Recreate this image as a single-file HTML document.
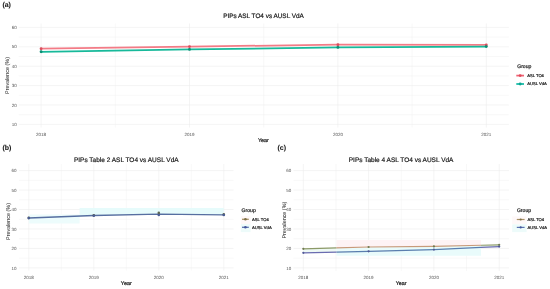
<!DOCTYPE html>
<html><head><meta charset="utf-8"><style>
html,body{margin:0;padding:0;background:#fff;width:550px;height:289px;overflow:hidden}
svg{display:block;font-family:"Liberation Sans", sans-serif;text-rendering:geometricPrecision}
</style></head><body>
<svg width="550" height="289" viewBox="0 0 550 289">
<defs><filter id="bl" x="0" y="0" width="550" height="289" filterUnits="userSpaceOnUse" color-interpolation-filters="sRGB"><feConvolveMatrix order="3" kernelMatrix="0 0 0 0 1 0 0 0 0" edgeMode="duplicate"/></filter></defs>
<rect width="550" height="289" fill="#fff"/>
<line x1="18.7" x2="508.8" y1="114.70" y2="114.70" stroke="#f1f1f1" stroke-width="0.5"/>
<line x1="18.7" x2="508.8" y1="95.30" y2="95.30" stroke="#f1f1f1" stroke-width="0.5"/>
<line x1="18.7" x2="508.8" y1="75.90" y2="75.90" stroke="#f1f1f1" stroke-width="0.5"/>
<line x1="18.7" x2="508.8" y1="56.50" y2="56.50" stroke="#f1f1f1" stroke-width="0.5"/>
<line x1="18.7" x2="508.8" y1="37.10" y2="37.10" stroke="#f1f1f1" stroke-width="0.5"/>
<line x1="115.30" x2="115.30" y1="23.5" y2="127.5" stroke="#f1f1f1" stroke-width="0.5"/>
<line x1="263.70" x2="263.70" y1="23.5" y2="127.5" stroke="#f1f1f1" stroke-width="0.5"/>
<line x1="412.10" x2="412.10" y1="23.5" y2="127.5" stroke="#f1f1f1" stroke-width="0.5"/>
<line x1="18.7" x2="508.8" y1="124.40" y2="124.40" stroke="#ececec" stroke-width="0.6"/>
<line x1="18.7" x2="508.8" y1="105.00" y2="105.00" stroke="#ececec" stroke-width="0.6"/>
<line x1="18.7" x2="508.8" y1="85.60" y2="85.60" stroke="#ececec" stroke-width="0.6"/>
<line x1="18.7" x2="508.8" y1="66.20" y2="66.20" stroke="#ececec" stroke-width="0.6"/>
<line x1="18.7" x2="508.8" y1="46.80" y2="46.80" stroke="#ececec" stroke-width="0.6"/>
<line x1="18.7" x2="508.8" y1="27.40" y2="27.40" stroke="#ececec" stroke-width="0.6"/>
<line x1="41.10" x2="41.10" y1="23.5" y2="127.5" stroke="#ececec" stroke-width="0.6"/>
<line x1="189.50" x2="189.50" y1="23.5" y2="127.5" stroke="#ececec" stroke-width="0.6"/>
<line x1="337.90" x2="337.90" y1="23.5" y2="127.5" stroke="#ececec" stroke-width="0.6"/>
<line x1="486.30" x2="486.30" y1="23.5" y2="127.5" stroke="#ececec" stroke-width="0.6"/>
<polyline points="41.10,48.70 189.50,46.60 337.90,44.70 486.30,44.90" fill="none" stroke="#f37b86" stroke-width="1.75" stroke-linejoin="round"/>
<circle cx="41.10" cy="48.70" r="1.45" fill="#d84f5e"/>
<circle cx="189.50" cy="46.60" r="1.45" fill="#d84f5e"/>
<circle cx="337.90" cy="44.70" r="1.45" fill="#d84f5e"/>
<circle cx="486.30" cy="44.90" r="1.45" fill="#d84f5e"/>
<polyline points="41.10,51.80 189.50,49.40 337.90,47.40 486.30,46.60" fill="none" stroke="#17b99a" stroke-width="1.75" stroke-linejoin="round"/>
<circle cx="41.10" cy="51.80" r="1.45" fill="#0a8e74"/>
<circle cx="189.50" cy="49.40" r="1.45" fill="#0a8e74"/>
<circle cx="337.90" cy="47.40" r="1.45" fill="#0a8e74"/>
<circle cx="486.30" cy="46.60" r="1.45" fill="#0a8e74"/>
<line x1="516.3" x2="524.0" y1="75.6" y2="75.6" stroke="#f06474" stroke-width="1.75"/>
<circle cx="520.15" cy="75.6" r="1.45" fill="#e04a5c"/>
<line x1="516.3" x2="524.0" y1="84.0" y2="84.0" stroke="#14bba6" stroke-width="1.75"/>
<circle cx="520.15" cy="84.0" r="1.45" fill="#0aa592"/>
<line x1="19" x2="233.5" y1="258.17" y2="258.17" stroke="#f1f1f1" stroke-width="0.5"/>
<line x1="19" x2="233.5" y1="238.71" y2="238.71" stroke="#f1f1f1" stroke-width="0.5"/>
<line x1="19" x2="233.5" y1="219.25" y2="219.25" stroke="#f1f1f1" stroke-width="0.5"/>
<line x1="19" x2="233.5" y1="199.79" y2="199.79" stroke="#f1f1f1" stroke-width="0.5"/>
<line x1="19" x2="233.5" y1="180.33" y2="180.33" stroke="#f1f1f1" stroke-width="0.5"/>
<line x1="61.30" x2="61.30" y1="164" y2="270.5" stroke="#f1f1f1" stroke-width="0.5"/>
<line x1="126.30" x2="126.30" y1="164" y2="270.5" stroke="#f1f1f1" stroke-width="0.5"/>
<line x1="191.30" x2="191.30" y1="164" y2="270.5" stroke="#f1f1f1" stroke-width="0.5"/>
<line x1="19" x2="233.5" y1="267.90" y2="267.90" stroke="#ececec" stroke-width="0.6"/>
<line x1="19" x2="233.5" y1="248.44" y2="248.44" stroke="#ececec" stroke-width="0.6"/>
<line x1="19" x2="233.5" y1="228.98" y2="228.98" stroke="#ececec" stroke-width="0.6"/>
<line x1="19" x2="233.5" y1="209.52" y2="209.52" stroke="#ececec" stroke-width="0.6"/>
<line x1="19" x2="233.5" y1="190.06" y2="190.06" stroke="#ececec" stroke-width="0.6"/>
<line x1="19" x2="233.5" y1="170.60" y2="170.60" stroke="#ececec" stroke-width="0.6"/>
<line x1="28.80" x2="28.80" y1="164" y2="270.5" stroke="#ececec" stroke-width="0.6"/>
<line x1="93.80" x2="93.80" y1="164" y2="270.5" stroke="#ececec" stroke-width="0.6"/>
<line x1="158.80" x2="158.80" y1="164" y2="270.5" stroke="#ececec" stroke-width="0.6"/>
<line x1="223.80" x2="223.80" y1="164" y2="270.5" stroke="#ececec" stroke-width="0.6"/>
<polygon points="28.80,214.50 79.60,214.50 79.60,223.50 28.80,223.50" fill="#edfcfc"/>
<polygon points="79.60,207.90 223.80,207.90 223.80,214.80 158.80,214.20 93.80,215.50 79.60,216.05" fill="#e6fbfb"/>
<polyline points="28.80,218.00 93.80,215.50 158.80,214.20 223.80,214.80" fill="none" stroke="#566ea0" stroke-width="1.3" stroke-linejoin="round"/>
<circle cx="28.80" cy="217.90" r="1.3" fill="#5a6450"/>
<circle cx="93.80" cy="215.20" r="1.3" fill="#5a6450"/>
<circle cx="158.80" cy="212.90" r="1.3" fill="#5a6450"/>
<circle cx="223.80" cy="214.40" r="1.3" fill="#5a6450"/>
<circle cx="28.80" cy="218.10" r="1.3" fill="#4a5c94"/>
<circle cx="93.80" cy="215.70" r="1.3" fill="#4a5c94"/>
<circle cx="158.80" cy="215.00" r="1.3" fill="#4a5c94"/>
<circle cx="223.80" cy="215.00" r="1.3" fill="#4a5c94"/>
<rect x="240.8" y="216.10" width="9.7" height="8" fill="#fef8f8"/>
<line x1="242.0" x2="248.8" y1="219.3" y2="219.3" stroke="#a89266" stroke-width="1.3"/>
<circle cx="245.40" cy="219.3" r="1.3" fill="#7e7048"/>
<rect x="240.8" y="224.10" width="9.7" height="8" fill="#edfbfa"/>
<line x1="242.0" x2="248.8" y1="227.3" y2="227.3" stroke="#5a72b0" stroke-width="1.3"/>
<circle cx="245.40" cy="227.3" r="1.3" fill="#44579a"/>
<line x1="293.5" x2="509" y1="258.17" y2="258.17" stroke="#f1f1f1" stroke-width="0.5"/>
<line x1="293.5" x2="509" y1="238.71" y2="238.71" stroke="#f1f1f1" stroke-width="0.5"/>
<line x1="293.5" x2="509" y1="219.25" y2="219.25" stroke="#f1f1f1" stroke-width="0.5"/>
<line x1="293.5" x2="509" y1="199.79" y2="199.79" stroke="#f1f1f1" stroke-width="0.5"/>
<line x1="293.5" x2="509" y1="180.33" y2="180.33" stroke="#f1f1f1" stroke-width="0.5"/>
<line x1="335.95" x2="335.95" y1="164" y2="271" stroke="#f1f1f1" stroke-width="0.5"/>
<line x1="401.25" x2="401.25" y1="164" y2="271" stroke="#f1f1f1" stroke-width="0.5"/>
<line x1="466.55" x2="466.55" y1="164" y2="271" stroke="#f1f1f1" stroke-width="0.5"/>
<line x1="293.5" x2="509" y1="267.90" y2="267.90" stroke="#ececec" stroke-width="0.6"/>
<line x1="293.5" x2="509" y1="248.44" y2="248.44" stroke="#ececec" stroke-width="0.6"/>
<line x1="293.5" x2="509" y1="228.98" y2="228.98" stroke="#ececec" stroke-width="0.6"/>
<line x1="293.5" x2="509" y1="209.52" y2="209.52" stroke="#ececec" stroke-width="0.6"/>
<line x1="293.5" x2="509" y1="190.06" y2="190.06" stroke="#ececec" stroke-width="0.6"/>
<line x1="293.5" x2="509" y1="170.60" y2="170.60" stroke="#ececec" stroke-width="0.6"/>
<line x1="303.30" x2="303.30" y1="164" y2="271" stroke="#ececec" stroke-width="0.6"/>
<line x1="368.60" x2="368.60" y1="164" y2="271" stroke="#ececec" stroke-width="0.6"/>
<line x1="433.90" x2="433.90" y1="164" y2="271" stroke="#ececec" stroke-width="0.6"/>
<line x1="499.20" x2="499.20" y1="164" y2="271" stroke="#ececec" stroke-width="0.6"/>
<polygon points="303.30,248.80 336.50,247.88 336.50,252.04 303.30,252.80" fill="#eef9f4"/>
<polygon points="336.50,239.90 481.00,239.90 481.00,245.25 433.90,246.40 368.60,247.00 336.50,247.88" fill="#fef3f5"/>
<polygon points="336.50,247.88 368.60,247.00 433.90,246.40 481.00,245.25 481.00,255.80 336.50,255.80" fill="#e9fbfb"/>
<polygon points="481.00,245.25 499.20,244.80 499.20,246.60 481.00,247.44" fill="#eef9f4"/>
<polyline points="303.30,248.80 336.50,247.88" fill="none" stroke="#8c9a68" stroke-width="1.2" stroke-linejoin="round"/>
<polyline points="303.30,252.80 336.50,252.04" fill="none" stroke="#6a6cb0" stroke-width="1.2" stroke-linejoin="round"/>
<polyline points="336.50,247.88 368.60,247.00 433.90,246.40 481.00,245.25" fill="none" stroke="#c89a7a" stroke-width="1.2" stroke-linejoin="round"/>
<polyline points="336.50,252.04 368.60,251.30 433.90,249.60 481.00,247.44" fill="none" stroke="#5a7eae" stroke-width="1.2" stroke-linejoin="round"/>
<polyline points="481.00,245.25 499.20,244.80" fill="none" stroke="#8c9a68" stroke-width="1.2" stroke-linejoin="round"/>
<polyline points="481.00,247.44 499.20,246.60" fill="none" stroke="#6a6cb0" stroke-width="1.2" stroke-linejoin="round"/>
<circle cx="303.30" cy="248.80" r="1.1" fill="#6f7a50"/>
<circle cx="368.60" cy="247.00" r="1.1" fill="#6f7a50"/>
<circle cx="433.90" cy="246.40" r="1.1" fill="#6f7a50"/>
<circle cx="499.20" cy="244.80" r="1.1" fill="#6f7a50"/>
<circle cx="303.30" cy="252.80" r="1.1" fill="#4f5895"/>
<circle cx="368.60" cy="251.30" r="1.1" fill="#4f5895"/>
<circle cx="433.90" cy="249.60" r="1.1" fill="#4f5895"/>
<circle cx="499.20" cy="246.60" r="1.1" fill="#4f5895"/>
<rect x="512.2" y="216.40" width="14.4" height="7.8" fill="#fef8f8"/>
<line x1="516.8" x2="524.6" y1="219.5" y2="219.5" stroke="#a89266" stroke-width="1.2"/>
<circle cx="520.70" cy="219.5" r="1.1" fill="#7e7048"/>
<rect x="512.2" y="224.30" width="14.4" height="7.8" fill="#edfbfa"/>
<line x1="516.8" x2="524.6" y1="227.4" y2="227.4" stroke="#5a72b0" stroke-width="1.2"/>
<circle cx="520.70" cy="227.4" r="1.1" fill="#44579a"/>
<g filter="url(#bl)">
<text x="16.70" y="126.02" font-size="4.5" text-anchor="end" font-weight="normal" fill="#555555" stroke="#555555" stroke-width="0.0" >10</text>
<text x="16.70" y="106.62" font-size="4.5" text-anchor="end" font-weight="normal" fill="#555555" stroke="#555555" stroke-width="0.0" >20</text>
<text x="16.70" y="87.22" font-size="4.5" text-anchor="end" font-weight="normal" fill="#555555" stroke="#555555" stroke-width="0.0" >30</text>
<text x="16.70" y="67.82" font-size="4.5" text-anchor="end" font-weight="normal" fill="#555555" stroke="#555555" stroke-width="0.0" >40</text>
<text x="16.70" y="48.42" font-size="4.5" text-anchor="end" font-weight="normal" fill="#555555" stroke="#555555" stroke-width="0.0" >50</text>
<text x="16.70" y="29.02" font-size="4.5" text-anchor="end" font-weight="normal" fill="#555555" stroke="#555555" stroke-width="0.0" >60</text>
<text x="41.10" y="135.50" font-size="4.5" text-anchor="middle" font-weight="normal" fill="#555555" stroke="#555555" stroke-width="0.0" >2018</text>
<text x="189.50" y="135.50" font-size="4.5" text-anchor="middle" font-weight="normal" fill="#555555" stroke="#555555" stroke-width="0.0" >2019</text>
<text x="337.90" y="135.50" font-size="4.5" text-anchor="middle" font-weight="normal" fill="#555555" stroke="#555555" stroke-width="0.0" >2020</text>
<text x="486.30" y="135.50" font-size="4.5" text-anchor="middle" font-weight="normal" fill="#555555" stroke="#555555" stroke-width="0.0" >2021</text>
<text x="263.40" y="141.80" font-size="5.4" text-anchor="middle" font-weight="normal" fill="#1a1a1a" stroke="#1a1a1a" stroke-width="0.2" >Year</text>
<text x="0.00" y="0.00" font-size="5.4" text-anchor="middle" font-weight="normal" fill="#333333" stroke="#333333" stroke-width="0.04000000000000001" transform="translate(9.20,75.50) rotate(-90)">Prevalence (%)</text>
<text x="263.50" y="17.80" font-size="6.4" text-anchor="middle" font-weight="normal" fill="#1a1a1a" stroke="#1a1a1a" stroke-width="0.2" >PIPs ASL TO4 vs AUSL VdA</text>
<text x="2.40" y="6.80" font-size="7" text-anchor="start" font-weight="bold" fill="#1a1a1a" stroke="#1a1a1a" stroke-width="0.1" >(a)</text>
<text x="517.20" y="67.90" font-size="5.1" text-anchor="start" font-weight="normal" fill="#1a1a1a" stroke="#1a1a1a" stroke-width="0.2" >Group</text>
<text x="527.20" y="77.09" font-size="4.15" text-anchor="start" font-weight="normal" fill="#1a1a1a" stroke="#1a1a1a" stroke-width="0.2" >ASL TO4</text>
<text x="527.20" y="85.49" font-size="4.15" text-anchor="start" font-weight="normal" fill="#1a1a1a" stroke="#1a1a1a" stroke-width="0.2" >AUSL VdA</text>
<text x="16.60" y="269.52" font-size="4.5" text-anchor="end" font-weight="normal" fill="#555555" stroke="#555555" stroke-width="0.0" >10</text>
<text x="16.60" y="250.06" font-size="4.5" text-anchor="end" font-weight="normal" fill="#555555" stroke="#555555" stroke-width="0.0" >20</text>
<text x="16.60" y="230.60" font-size="4.5" text-anchor="end" font-weight="normal" fill="#555555" stroke="#555555" stroke-width="0.0" >30</text>
<text x="16.60" y="211.14" font-size="4.5" text-anchor="end" font-weight="normal" fill="#555555" stroke="#555555" stroke-width="0.0" >40</text>
<text x="16.60" y="191.68" font-size="4.5" text-anchor="end" font-weight="normal" fill="#555555" stroke="#555555" stroke-width="0.0" >50</text>
<text x="16.60" y="172.22" font-size="4.5" text-anchor="end" font-weight="normal" fill="#555555" stroke="#555555" stroke-width="0.0" >60</text>
<text x="28.80" y="279.40" font-size="4.5" text-anchor="middle" font-weight="normal" fill="#555555" stroke="#555555" stroke-width="0.0" >2018</text>
<text x="93.80" y="279.40" font-size="4.5" text-anchor="middle" font-weight="normal" fill="#555555" stroke="#555555" stroke-width="0.0" >2019</text>
<text x="158.80" y="279.40" font-size="4.5" text-anchor="middle" font-weight="normal" fill="#555555" stroke="#555555" stroke-width="0.0" >2020</text>
<text x="223.80" y="279.40" font-size="4.5" text-anchor="middle" font-weight="normal" fill="#555555" stroke="#555555" stroke-width="0.0" >2021</text>
<text x="126.30" y="285.20" font-size="5.4" text-anchor="middle" font-weight="normal" fill="#1a1a1a" stroke="#1a1a1a" stroke-width="0.2" >Year</text>
<text x="0.00" y="0.00" font-size="5.4" text-anchor="middle" font-weight="normal" fill="#333333" stroke="#333333" stroke-width="0.04000000000000001" transform="translate(10.20,221.50) rotate(-90)">Prevalence (%)</text>
<text x="126.30" y="162.10" font-size="6.5" text-anchor="middle" font-weight="normal" fill="#1a1a1a" stroke="#1a1a1a" stroke-width="0.2" >PIPs Table 2 ASL TO4 vs AUSL VdA</text>
<text x="2.40" y="150.20" font-size="7" text-anchor="start" font-weight="bold" fill="#1a1a1a" stroke="#1a1a1a" stroke-width="0.1" >(b)</text>
<text x="241.60" y="212.00" font-size="5.1" text-anchor="start" font-weight="normal" fill="#1a1a1a" stroke="#1a1a1a" stroke-width="0.2" >Group</text>
<text x="252.00" y="220.79" font-size="4.15" text-anchor="start" font-weight="normal" fill="#1a1a1a" stroke="#1a1a1a" stroke-width="0.2" >ASL TO4</text>
<text x="252.00" y="228.79" font-size="4.15" text-anchor="start" font-weight="normal" fill="#1a1a1a" stroke="#1a1a1a" stroke-width="0.2" >AUSL VdA</text>
<text x="291.20" y="269.52" font-size="4.5" text-anchor="end" font-weight="normal" fill="#555555" stroke="#555555" stroke-width="0.0" >10</text>
<text x="291.20" y="250.06" font-size="4.5" text-anchor="end" font-weight="normal" fill="#555555" stroke="#555555" stroke-width="0.0" >20</text>
<text x="291.20" y="230.60" font-size="4.5" text-anchor="end" font-weight="normal" fill="#555555" stroke="#555555" stroke-width="0.0" >30</text>
<text x="291.20" y="211.14" font-size="4.5" text-anchor="end" font-weight="normal" fill="#555555" stroke="#555555" stroke-width="0.0" >40</text>
<text x="291.20" y="191.68" font-size="4.5" text-anchor="end" font-weight="normal" fill="#555555" stroke="#555555" stroke-width="0.0" >50</text>
<text x="291.20" y="172.22" font-size="4.5" text-anchor="end" font-weight="normal" fill="#555555" stroke="#555555" stroke-width="0.0" >60</text>
<text x="303.30" y="279.40" font-size="4.5" text-anchor="middle" font-weight="normal" fill="#555555" stroke="#555555" stroke-width="0.0" >2018</text>
<text x="368.60" y="279.40" font-size="4.5" text-anchor="middle" font-weight="normal" fill="#555555" stroke="#555555" stroke-width="0.0" >2019</text>
<text x="433.90" y="279.40" font-size="4.5" text-anchor="middle" font-weight="normal" fill="#555555" stroke="#555555" stroke-width="0.0" >2020</text>
<text x="499.20" y="279.40" font-size="4.5" text-anchor="middle" font-weight="normal" fill="#555555" stroke="#555555" stroke-width="0.0" >2021</text>
<text x="401.20" y="285.30" font-size="5.4" text-anchor="middle" font-weight="normal" fill="#1a1a1a" stroke="#1a1a1a" stroke-width="0.2" >Year</text>
<text x="0.00" y="0.00" font-size="5.4" text-anchor="middle" font-weight="normal" fill="#333333" stroke="#333333" stroke-width="0.04000000000000001" transform="translate(285.50,220.20) rotate(-90)">Prevalence (%)</text>
<text x="401.10" y="162.10" font-size="6.5" text-anchor="middle" font-weight="normal" fill="#1a1a1a" stroke="#1a1a1a" stroke-width="0.2" >PIPs Table 4 ASL TO4 vs AUSL VdA</text>
<text x="277.50" y="150.40" font-size="7" text-anchor="start" font-weight="bold" fill="#1a1a1a" stroke="#1a1a1a" stroke-width="0.1" >(c)</text>
<text x="516.90" y="212.40" font-size="5.1" text-anchor="start" font-weight="normal" fill="#1a1a1a" stroke="#1a1a1a" stroke-width="0.2" >Group</text>
<text x="527.40" y="220.99" font-size="4.15" text-anchor="start" font-weight="normal" fill="#1a1a1a" stroke="#1a1a1a" stroke-width="0.2" >ASL TO4</text>
<text x="527.40" y="228.89" font-size="4.15" text-anchor="start" font-weight="normal" fill="#1a1a1a" stroke="#1a1a1a" stroke-width="0.2" >AUSL VdA</text>
</g>
</svg>
</body></html>
